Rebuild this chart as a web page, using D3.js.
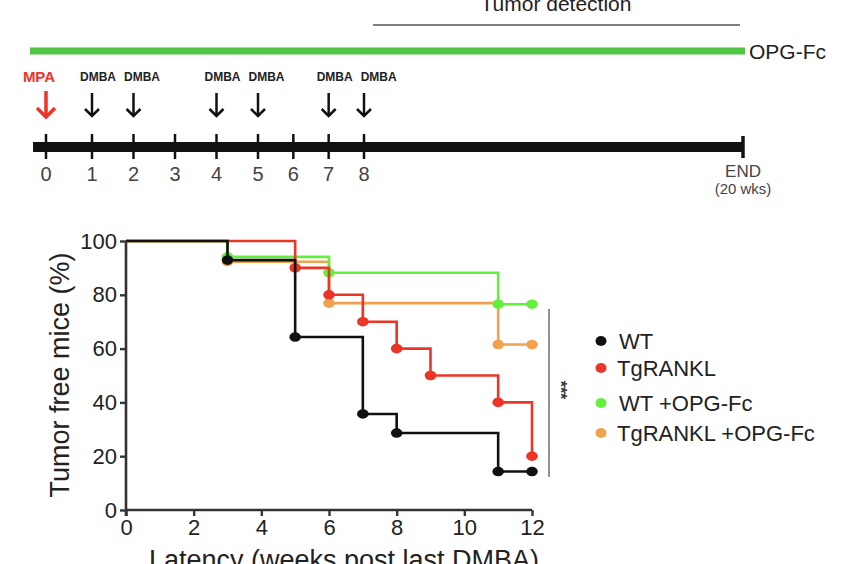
<!DOCTYPE html>
<html>
<head>
<meta charset="utf-8">
<script src="https://cdn.jsdelivr.net/npm/d3@7"></script>
<style>
  html, body { margin: 0; padding: 0; background: #fff; }
  svg { display: block; font-family: "Liberation Sans", Arial, sans-serif; }
</style>
</head>
<body>
<svg id="chart" width="846" height="564"></svg>
<script>
// ---------- DATA ----------
const timelineWeeks = [0, 1, 2, 3, 4, 5, 6, 7, 8];
const dmbaWeeks = [1, 2, 4, 5, 7, 8];
const mpaWeek = 0;
const endLabel = ["END", "(20 wks)"];

const seriesNames = ["WT", "TgRANKL", "WT +OPG-Fc", "TgRANKL +OPG-Fc"];
const wtTimes = [0, 3, 5, 7, 8, 11, 12];
const wtSurv = [100, 92.9, 64.3, 35.7, 28.6, 14.3, 14.3];
const tgTimes = [0, 5, 6, 7, 8, 9, 11, 12];
const tgSurv = [100, 90, 80, 70, 60, 50, 40, 20];
const wtOpgTimes = [0, 3, 6, 11, 12];
const wtOpgSurv = [100, 94.1, 88.2, 76.5, 76.5];
const tgOpgTimes = [0, 3, 6, 11, 12];
const tgOpgSurv = [100, 92.3, 76.9, 61.5, 61.5];

const xTicks = [0, 2, 4, 6, 8, 10, 12];
const yTicks = [0, 20, 40, 60, 80, 100];

const colors = {
  "WT": "#111111",
  "TgRANKL": "#ec3427",
  "WT +OPG-Fc": "#62ef3e",
  "TgRANKL +OPG-Fc": "#f2a24e"
};

const series = [
  { name: "TgRANKL +OPG-Fc", t: tgOpgTimes, s: tgOpgSurv },
  { name: "WT +OPG-Fc", t: wtOpgTimes, s: wtOpgSurv },
  { name: "TgRANKL", t: tgTimes, s: tgSurv },
  { name: "WT", t: wtTimes, s: wtSurv }
];

const svg = d3.select("#chart");

// ---------- TIMELINE ----------
const tl = d3.scaleLinear().domain([0, 1, 5, 8]).range([46, 92, 258, 364]);
const endX = 743;
const barY = 147;

// Tumor detection
svg.append("text").attr("x", 556).attr("y", 11).attr("text-anchor", "middle")
  .attr("font-size", 21).attr("fill", "#222").text("Tumor detection");
svg.append("line").attr("x1", 373).attr("x2", 740).attr("y1", 25).attr("y2", 25)
  .attr("stroke", "#555").attr("stroke-width", 1.5);

// OPG-Fc bar
svg.append("line").attr("x1", 30).attr("x2", 745).attr("y1", 51).attr("y2", 51)
  .attr("stroke", "#52c443").attr("stroke-width", 7);
svg.append("text").attr("x", 749).attr("y", 59).attr("font-size", 21)
  .attr("fill", "#222").text("OPG-Fc");

// main bar
svg.append("line").attr("x1", 33).attr("x2", endX).attr("y1", barY).attr("y2", barY)
  .attr("stroke", "#111").attr("stroke-width", 10);
svg.selectAll(".tltick").data(timelineWeeks).join("line")
  .attr("x1", d => tl(d)).attr("x2", d => tl(d)).attr("y1", 134).attr("y2", 159)
  .attr("stroke", "#111").attr("stroke-width", 2.5);
svg.append("line").attr("x1", endX).attr("x2", endX).attr("y1", 136).attr("y2", 158)
  .attr("stroke", "#111").attr("stroke-width", 3.5);
svg.selectAll(".tllab").data(timelineWeeks).join("text")
  .attr("x", d => tl(d)).attr("y", 181).attr("text-anchor", "middle")
  .attr("font-size", 20).attr("fill", "#444").text(d => d);
svg.append("text").attr("x", endX).attr("y", 177).attr("text-anchor", "middle")
  .attr("font-size", 17).attr("fill", "#444").text(endLabel[0]);
svg.append("text").attr("x", endX).attr("y", 194).attr("text-anchor", "middle")
  .attr("font-size", 15).attr("fill", "#444").text(endLabel[1]);

// arrows
function arrow(x, y1, y2, color, w, hw) {
  svg.append("line").attr("x1", x).attr("x2", x).attr("y1", y1).attr("y2", y2)
    .attr("stroke", color).attr("stroke-width", w);
  svg.append("path").attr("d", `M${x - hw},${y2 - hw} L${x},${y2} L${x + hw},${y2 - hw}`)
    .attr("fill", "none").attr("stroke", color).attr("stroke-width", w)
    .attr("stroke-linecap", "butt").attr("stroke-linejoin", "miter");
}
dmbaWeeks.forEach(w => arrow(tl(w), 93, 116, "#111", 2.5, 7));
arrow(tl(mpaWeek), 91, 117, "#ec3427", 3.5, 9);

// DMBA labels: centred just right of each arrow, pushed apart when crowded
const dmbaLabelX = [];
dmbaWeeks.forEach((w, i) => {
  let cx = tl(w) + 6;
  if (i > 0 && cx - dmbaLabelX[i - 1] < 44) cx = dmbaLabelX[i - 1] + 44;
  dmbaLabelX.push(cx);
});
svg.selectAll(".dmba").data(dmbaWeeks).join("text")
  .attr("x", (d, i) => dmbaLabelX[i]).attr("y", 81).attr("text-anchor", "middle")
  .attr("font-size", 12).attr("font-weight", "bold").attr("fill", "#222").text("DMBA");
svg.append("text").attr("x", tl(mpaWeek) - 7).attr("y", 82).attr("text-anchor", "middle")
  .attr("font-size", 15).attr("font-weight", "bold").attr("fill", "#ec3427").text("MPA");

// ---------- SURVIVAL PLOT ----------
const x = d3.scaleLinear().domain([0, 12]).range([126, 532]);
const y = d3.scaleLinear().domain([0, 100]).range([510, 241]);

const line = d3.line().x(d => x(d[0])).y(d => y(d[1])).curve(d3.curveStepAfter);

series.forEach(sr => {
  const pts = sr.t.map((t, i) => [t, sr.s[i]]);
  svg.append("path").attr("d", line(pts)).attr("fill", "none")
    .attr("stroke", colors[sr.name]).attr("stroke-width", 2.6);
  svg.selectAll(null).data(pts.slice(1)).join("ellipse")
    .attr("cx", d => x(d[0])).attr("cy", d => y(d[1])).attr("rx", 5.8).attr("ry", 4.8)
    .attr("fill", colors[sr.name]);
});

// axes
const axisColor = "#333";
const yAxis = svg.append("g").attr("transform", `translate(${x(0)},0)`)
  .call(d3.axisLeft(y).tickValues(yTicks).tickSize(6).tickPadding(3));
const xAxis = svg.append("g").attr("transform", `translate(0,${y(0)})`)
  .call(d3.axisBottom(x).tickValues(xTicks).tickSize(6).tickPadding(3));
[yAxis, xAxis].forEach(g => {
  g.select(".domain").attr("stroke", axisColor).attr("stroke-width", 2.6);
  g.selectAll(".tick line").attr("stroke", axisColor).attr("stroke-width", 2.4);
  g.selectAll(".tick text").attr("font-size", 22).attr("fill", "#222")
    .attr("font-family", "'Liberation Sans', Arial, sans-serif");
});
yAxis.select(".domain").attr("d", `M0,${y(100)}V${y(0) + 6}`);
xAxis.select(".domain").attr("d", `M${x(0)},0H${x(12)}`);

// titles
svg.append("text").attr("transform", `translate(69,375) rotate(-90)`)
  .attr("text-anchor", "middle").attr("font-size", 27).attr("fill", "#222")
  .text("Tumor free mice (%)");
svg.append("text").attr("x", 344).attr("y", 569).attr("text-anchor", "middle")
  .attr("font-size", 27).attr("fill", "#222").text("Latency (weeks post last DMBA)");

// significance
svg.append("line").attr("x1", 549).attr("x2", 549).attr("y1", 309).attr("y2", 477)
  .attr("stroke", "#777").attr("stroke-width", 1.6);
svg.append("text").attr("transform", "translate(555,390) rotate(90)")
  .attr("text-anchor", "middle").attr("font-size", 16).attr("font-weight", "bold")
  .attr("fill", "#333").text("***");

// legend
const leg = svg.append("g");
const legendY = [341, 368, 403, 433];
seriesNames.forEach((n, i) => {
  const ly = legendY[i];
  leg.append("ellipse").attr("cx", 601).attr("cy", ly).attr("rx", 5.5).attr("ry", 5)
    .attr("fill", colors[n]);
  leg.append("text").attr("x", n.startsWith("Tg") ? 617 : 619).attr("y", ly + 8)
    .attr("font-size", 22).attr("fill", "#222").text(n);
});
</script>
</body>
</html>
